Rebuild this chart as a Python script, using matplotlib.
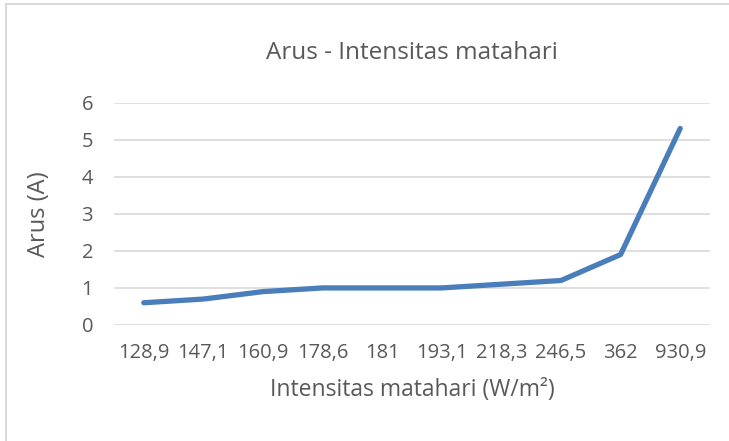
import matplotlib
matplotlib.use("Agg")
import matplotlib.pyplot as plt
from matplotlib.patches import Rectangle

# data
intensitas = ["128,9", "147,1", "160,9", "178,6", "181", "193,1", "218,3", "246,5", "362", "930,9"]
arus = [0.6, 0.7, 0.9, 1.0, 1.0, 1.0, 1.1, 1.2, 1.9, 5.3]
yticks = [0, 1, 2, 3, 4, 5, 6]

plt.rcParams['font.family'] = ['Open Sans', 'DejaVu Sans']
grey = '#595959'

fig = plt.figure(figsize=(7.29, 4.41), dpi=100)
ax = fig.add_axes([114 / 729, 1 - 325 / 441, (710 - 114) / 729, (325 - 102.5) / 441])

x = range(len(intensitas))
ax.plot(x, arus, color='#4a7ebb', linewidth=3.8, solid_capstyle='round',
        solid_joinstyle='round', zorder=3)

ax.set_xlim(-0.5, len(intensitas) - 0.5)
ax.set_ylim(0, 6)
ax.set_yticks(yticks)
ax.set_xticks(list(x))
ax.set_xticklabels(intensitas)
ax.yaxis.grid(True, color='#d9d9d9', linewidth=1.2)
ax.set_axisbelow(True)
for s in ax.spines.values():
    s.set_visible(False)
ax.tick_params(length=0, labelsize=14.5, labelcolor=grey)
ax.tick_params(axis='y', pad=15)
ax.tick_params(axis='x', pad=13)

ax.set_title('Arus - Intensitas matahari', fontsize=17.5, color=grey, pad=31)
ax.set_ylabel('Arus (A)', fontsize=17, color=grey, labelpad=1)
ax.yaxis.set_label_coords(-0.105, 0.5)
ax.set_xlabel('Intensitas matahari (W/m²)', fontsize=16.5, color=grey, labelpad=11)

# chart border
fig.patches.append(Rectangle((6 / 729, -0.1), 1.2, 1.1 - 4 / 441, transform=fig.transFigure,
                             fill=False, edgecolor='#d9d9d9', linewidth=1.5))

fig.savefig('out.png', dpi=100, facecolor='white')
